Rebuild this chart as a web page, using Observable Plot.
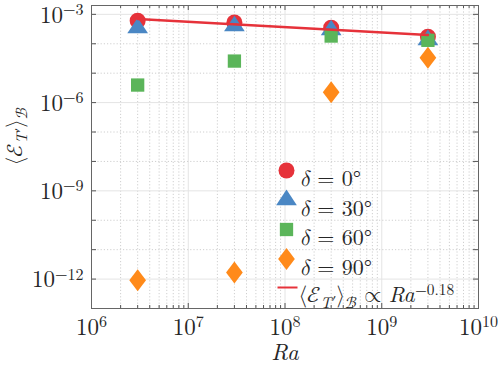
<!DOCTYPE html>
<html>
<head>
<meta charset="utf-8">
<script src="https://cdn.jsdelivr.net/npm/d3@7"></script>
<script src="https://cdn.jsdelivr.net/npm/@observablehq/plot@0.6"></script>
<style>
  html, body { margin: 0; padding: 0; background: white; }
</style>
</head>
<body>
<div id="chart"></div>
<script>
// ---- data ----
const Ra = [3e6, 3e7, 3e8, 3e9];
const E_delta0  = [6.05e-4, 5.3e-4, 3.5e-4, 1.73e-4];
const E_delta30 = [3.4e-4, 3.97e-4, 2.9e-4, 1.35e-4];
const E_delta60 = [3.95e-6, 2.58e-5, 1.83e-4, 1.31e-4];
const E_delta90 = [9.2e-13, 1.69e-12, 2.23e-6, 3.34e-5];
const fitRa = [3e6, 3e9];
const fitE  = [6.9e-4, 1.99e-4];
const seriesLabels = ["*δ* = 0°", "*δ* = 30°", "*δ* = 60°", "*δ* = 90°"];
const fitLabel = "⟨ℰ_{*T*′}⟩_{ℬ} ∝ *Ra*^{−0.18}";
const xLabel = "*Ra*";
const yLabel = "⟨ℰ_{*T*′}⟩_{ℬ}";
const xMajor = [1e6, 1e7, 1e8, 1e9, 1e10];
const xMinor = [1e6, 1e7, 1e8, 1e9].flatMap(p => [2,3,4,5,6,7,8,9].map(m => m * p));
const yMajor = [1e-12, 1e-9, 1e-6, 1e-3];
const yDecades = [1e-13, 1e-12, 1e-11, 1e-10, 1e-9, 1e-8, 1e-7, 1e-6, 1e-5, 1e-4, 1e-3];
const yMinor = yDecades.filter(d => !yMajor.includes(d));

// ---- symbols (pixel geometry) ----
const sym = {
  triangle: {draw(c) { c.moveTo(0, -10.4); c.lineTo(10.35, 5.2); c.lineTo(-10.35, 5.2); c.closePath(); }},
  square:   {draw(c) { c.rect(-6.65, -6.65, 13.3, 13.3); }},
  diamond:  {draw(c) { c.moveTo(0, -11); c.lineTo(8.35, 0); c.lineTo(0, 11); c.lineTo(-8.35, 0); c.closePath(); }},
  circle:   {draw(c) { c.moveTo(8, 0); c.arc(0, 0, 8, 0, 2 * Math.PI); c.closePath(); }},
  dash:     {draw(c) { c.moveTo(-10, 0); c.lineTo(10, 0); }}
};
const series = [
  {E: E_delta0,  color: "#E6323A", symbol: sym.circle},
  {E: E_delta30, color: "#4A87C4", symbol: sym.triangle},
  {E: E_delta60, color: "#5BB55A", symbol: sym.square},
  {E: E_delta90, color: "#FF8A1A", symbol: sym.diamond}
];
const lineColor = "#E6323A";
const FONT = "Latin Modern Roman, Latin Modern Math, Liberation Serif, DejaVu Serif, serif";

const fmtPow = d => `10^{${String(Math.round(Math.log10(d))).replace("-", "−")}}`;

const W = 387, H = 303; // frame size (for inset ticks)
const marks = [
  Plot.gridX(xMinor, {stroke: "#cfcfcf", strokeOpacity: 1, strokeDasharray: "1.2,2"}),
  Plot.gridX(xMajor, {stroke: "#e4e4e4", strokeOpacity: 1}),
  Plot.gridY(yMinor, {stroke: "#cfcfcf", strokeOpacity: 1, strokeDasharray: "1.2,2"}),
  Plot.gridY(yMajor, {stroke: "#e4e4e4", strokeOpacity: 1}),
  // inward ticks
  Plot.tickX(xMajor, {x: d => d, insetTop: H - 5, stroke: "#555"}),
  Plot.tickX(xMajor, {x: d => d, insetBottom: H - 5, stroke: "#555"}),
  Plot.tickX(xMinor, {x: d => d, insetTop: H - 3, stroke: "#555"}),
  Plot.tickX(xMinor, {x: d => d, insetBottom: H - 3, stroke: "#555"}),
  Plot.tickY(yDecades, {y: d => d, insetRight: W - 5, stroke: "#555"}),
  Plot.tickY(yDecades, {y: d => d, insetLeft: W - 5, stroke: "#555"}),
  Plot.frame({stroke: "#666"}),
  Plot.axisX(xMajor, {tickSize: 0, tickPadding: 10, tickFormat: fmtPow, fontSize: 23, label: null}),
  Plot.axisY(yMajor, {tickSize: 0, tickPadding: 8, dy: 1, tickFormat: fmtPow, fontSize: 23, label: null}),
];
series.forEach(s => {
  marks.push(Plot.dot(Ra.map((r, i) => ({Ra: r, E: s.E[i]})), {x: "Ra", y: "E", r: 8, symbol: s.symbol, fill: s.color, stroke: "none"}));
});
marks.push(Plot.line(fitRa.map((r, i) => ({Ra: r, E: fitE[i]})), {x: "Ra", y: "E", stroke: lineColor, strokeWidth: 2.5}));

// legend (inside the frame)
const legX = 196, legY0 = 165, legStep = 29.5;
series.forEach((s, i) => {
  marks.push(Plot.dot([0], {frameAnchor: "top-left", dx: legX - 1, dy: legY0 + i * legStep, r: 8, symbol: s.symbol, fill: s.color, stroke: "none"}));
  marks.push(Plot.text([seriesLabels[i]], {text: d => d, frameAnchor: "top-left", dx: legX + 12, dy: legY0 + i * legStep, textAnchor: "start", fontSize: 22}));
});
marks.push(Plot.dot([0], {frameAnchor: "top-left", dx: legX, dy: 282, r: 8, symbol: sym.dash, stroke: lineColor, strokeWidth: 2, fill: "none"}));
marks.push(Plot.text([fitLabel], {text: d => d, frameAnchor: "top-left", dx: legX + 11, dy: 281, textAnchor: "start", fontSize: 22}));

// axis titles
marks.push(Plot.text([xLabel], {text: d => d, frameAnchor: "bottom", dy: 51.5, fontSize: 23}));
marks.push(Plot.text([yLabel], {text: d => d, frameAnchor: "left", dx: -77, dy: 8.5, rotate: -90, fontSize: 22}));

const chart = Plot.plot({
  width: 498, height: 366,
  marginLeft: 91, marginRight: 20, marginTop: 5, marginBottom: 58,
  x: {type: "log", domain: [1e6, 1e10]},
  y: {type: "log", domain: [1e-13, 2e-3]},
  style: {background: "white", color: "#262626", overflow: "visible"},
  marks
});

// ---- simple math markup: *italic*, _{sub}, ^{sup} ----
function applyMarkup(el, str, fs) {
  const pieces = [];
  let italic = false, level = 0, buf = "";
  const push = () => { if (buf) { pieces.push({t: buf, italic, level}); buf = ""; } };
  for (let i = 0; i < str.length; i++) {
    const c = str[i];
    if (c === "*") { push(); italic = !italic; }
    else if ((c === "_" || c === "^") && str[i + 1] === "{") { push(); level = c === "_" ? -1 : 1; i++; }
    else if (c === "}" && level !== 0) { push(); level = 0; }
    else buf += c;
  }
  push();
  el.textContent = "";
  let shift = 0;
  const NS = "http://www.w3.org/2000/svg";
  pieces.forEach(p => {
    const ts = document.createElementNS(NS, "tspan");
    const target = p.level === 1 ? -0.34 * fs : p.level === -1 ? 0.25 * fs : 0;
    if (target !== shift) ts.setAttribute("dy", (target - shift).toFixed(2));
    shift = target;
    if (p.level !== 0) ts.setAttribute("font-size", (0.7 * fs).toFixed(1));
    if (p.italic) ts.setAttribute("font-style", "italic");
    ts.textContent = p.t;
    el.appendChild(ts);
  });
}
document.getElementById("chart").appendChild(chart);
chart.querySelectorAll("text").forEach(t => {
  let fs = 20, n = t;
  while (n && n !== chart) {
    const a = n.getAttribute && n.getAttribute("font-size");
    if (a) { fs = parseFloat(a); break; }
    n = n.parentNode;
  }
  t.setAttribute("font-family", FONT);
  const s = t.textContent;
  if (/\*|\^\{|_\{/.test(s)) applyMarkup(t, s, fs);
});
</script>
</body>
</html>
